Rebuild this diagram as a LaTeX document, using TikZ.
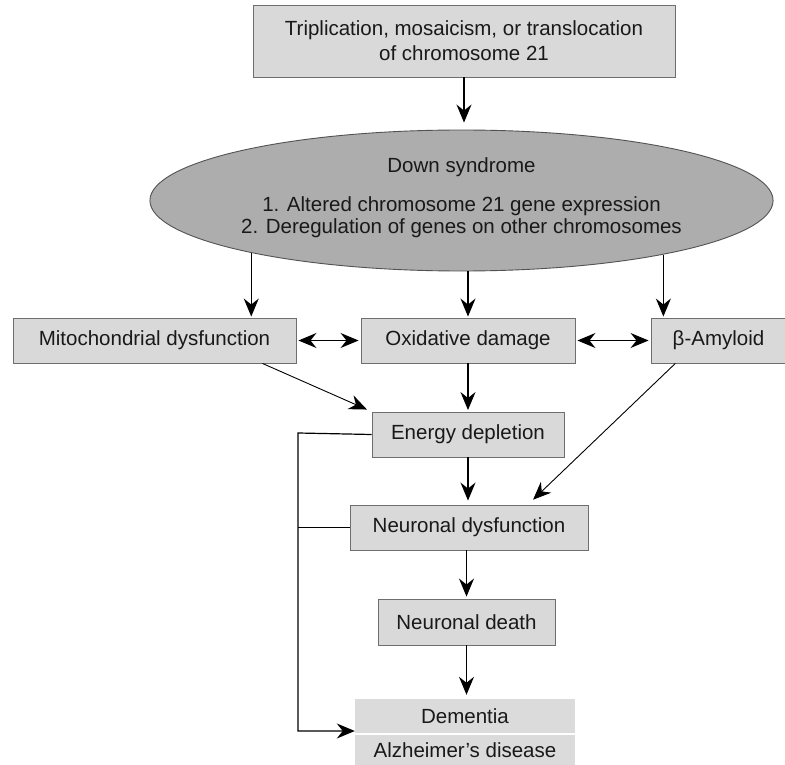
\documentclass[tikz,border=0pt]{standalone}
\usepackage{fontspec}
\setmainfont{Liberation Sans}
\usetikzlibrary{arrows.meta, shapes.geometric}

\begin{document}
\begin{tikzpicture}[x=1pt, y=-1pt,
		font=\fontsize{20.5}{22}\selectfont,
		box/.style = {draw=black!57, fill=black!15, line width=0.9pt, inner sep=0pt, text=black!90},
		plainbox/.style = {fill=black!14, inner sep=0pt, text=black!90, minimum width=220pt},
		arr/.style = {-{Stealth[length=18pt, width=15pt, inset=6pt]}, line width=1.2pt},
		dbl/.style = {{Stealth[length=18pt, width=15pt, inset=6pt]}-{Stealth[length=18pt, width=15pt, inset=6pt]}, line width=1.2pt}]
			\useasboundingbox (0,0) rectangle (785,765);

			\node[box, minimum width=422pt, minimum height=72pt, align=center] (trip) at (464,41)
				{Triplication, mosaicism, or translocation\\[3pt]of chromosome 21};
			\node[ellipse, draw=black!68, fill=black!32, line width=0.9pt, inner sep=0pt,
				minimum width=615pt, minimum height=141pt, align=center, text=black!90] (ds) at (461.5,200.5)
				{Down syndrome\\[17pt]1. Altered chromosome 21 gene expression\\2. Deregulation of genes on other chromosomes\\[-19pt]\strut};

			\node[box, minimum width=283pt, minimum height=45pt] (mito) at (154.5,340.5) {Mitochondrial dysfunction};
			\node[box, minimum width=214pt, minimum height=45pt] (oxid) at (468,340.5) {Oxidative damage};
			\node[box, minimum width=135pt, minimum height=45pt] (amyl) at (718.5,340.5) {β-Amyloid};
			\node[box, minimum width=192pt, minimum height=45pt] (energy) at (468,434.5) {Energy depletion};
			\node[box, minimum width=238pt, minimum height=45pt] (neurdys) at (469,527.5) {Neuronal dysfunction};
			\node[box, minimum width=177pt, minimum height=46pt] (death) at (466.5,622) {Neuronal death};
			\node[plainbox, minimum height=34pt] (dementia) at (465,716) {Dementia};
			\node[plainbox, minimum height=30pt] (alz) at (465,750) {Alzheimer's disease};

			\coordinate (trunk) at (298,433);

			\draw[arr, shorten >=7pt] (trip.south) -- (trip.south |- ds.north);
			\draw[arr, shorten >=1pt] (ds.194.5) -- (ds.194.5 |- mito.north);
			\draw[arr, shorten >=1pt] (ds.south -| oxid.north) -- (oxid.north);
			\draw[arr, shorten >=1pt] (ds.345.5) -- (ds.345.5 |- amyl.north);
			\draw[dbl, shorten <=2pt, shorten >=2pt] (mito.east) -- (oxid.west);
			\draw[dbl, shorten <=2pt, shorten >=2pt] (oxid.east) -- (amyl.west);

			\draw[arr, line width=0.9pt, shorten >=5pt] (mito.-12) -- (energy.north west);
			\draw[arr, shorten >=1.5pt] (oxid.south) -- (energy.north);
			\draw[arr, line width=0.9pt, shorten >=7pt] (amyl.208) -- ([xshift=59pt]neurdys.north);
			\draw[arr, shorten >=4pt] (energy.south) -- (energy.south |- neurdys.north);
			\draw[arr, shorten >=2pt] (neurdys.south -| death.north) -- (death.north);
			\draw[arr, shorten >=4pt] (death.south) -- (death.south |- dementia.north);

			\draw[arr] (energy.west) -- (trunk) |- ([yshift=-15pt]dementia.west);
			\draw[line width=1.2pt] (neurdys.west) -- (neurdys.west -| trunk);
		\end{tikzpicture}
\end{document}
